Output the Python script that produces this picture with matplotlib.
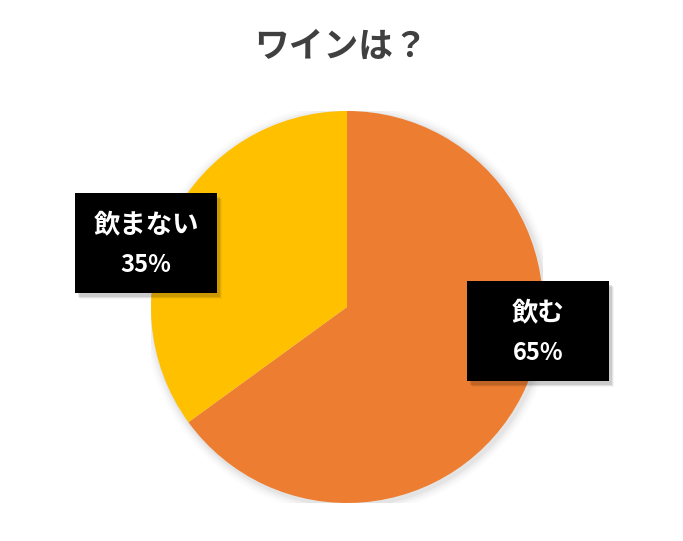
import matplotlib.pyplot as plt
from matplotlib.patches import Rectangle, Circle

plt.rcParams['font.family'] = ['Noto Sans CJK JP', 'DejaVu Sans']

title = "ワインは？"
labels = ["飲む", "飲まない"]
values = [65, 35]
colors = ["#ED7D31", "#FFC000"]

W, H = 683, 541
fig = plt.figure(figsize=(W / 100, H / 100), dpi=100)
fig.patch.set_facecolor("white")

# pie axes placed so the circle sits where it does in the reference
cx, cy, r = 347, 307, 196
ax = fig.add_axes([(cx - r) / W, (H - cy - r) / H, 2 * r / W, 2 * r / H])
ax.set_xlim(-1, 1)
ax.set_ylim(-1, 1)
ax.axis("off")

# soft shadow around the pie
for i, a in enumerate([0.04, 0.03, 0.02, 0.015]):
    ax.add_patch(Circle((0.01, -0.01), 1 + 0.012 * (i + 1), color="black",
                        alpha=a, lw=0, zorder=0))

ax.pie(values, colors=colors, startangle=90, counterclock=False, radius=1,
       wedgeprops=dict(linewidth=0))
ax.set_xlim(-1, 1)
ax.set_ylim(-1, 1)

fig.text(0.5, 1 - 46 / H, title, ha="center", va="center", fontsize=25,
         fontweight="bold", color="#404040")

# label boxes (centre in pixels)
boxes = [(538, 331), (146, 243)]
bw, bh = 142, 100
for (bx, by), lab, v in zip(boxes, labels, values):
    x0 = (bx - bw / 2) / W
    y0 = (H - by - bh / 2) / H
    for i, a in enumerate([0.10, 0.07, 0.04]):
        fig.patches.append(Rectangle((x0 + (3 + i) / W, y0 - (4 + i) / H), bw / W, bh / H,
                                     transform=fig.transFigure, color="black",
                                     alpha=a, lw=0, zorder=4))
    fig.patches.append(Rectangle((x0, y0), bw / W, bh / H, transform=fig.transFigure,
                                 color="black", lw=0, zorder=5))
    fig.text(bx / W, 1 - (by - 18) / H, lab, ha="center", va="center", fontsize=19,
             fontweight="bold", color="white", zorder=6)
    fig.text(bx / W, 1 - (by + 22) / H, f"{v}%", ha="center", va="center", fontsize=17,
             fontweight="bold", color="white", zorder=6)

fig.savefig("out.png", dpi=100, facecolor="white")
